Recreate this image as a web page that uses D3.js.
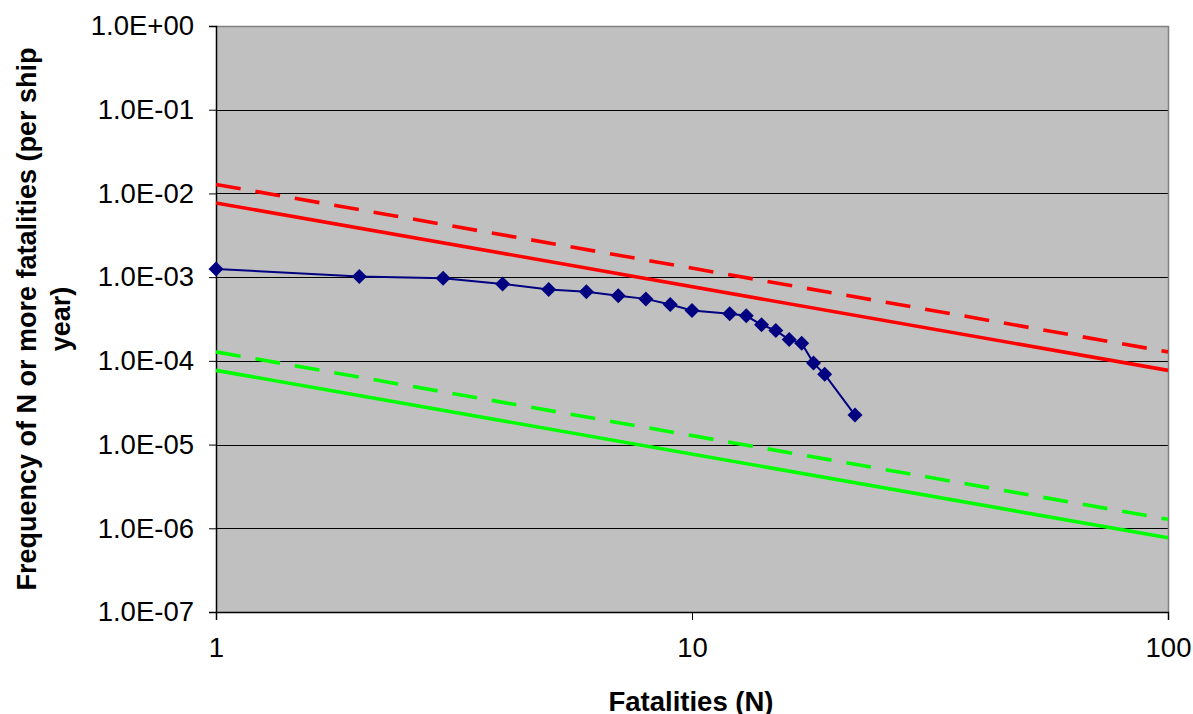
<!DOCTYPE html>
<html><head><meta charset="utf-8">
<script src="https://cdn.jsdelivr.net/npm/d3@7"></script>
<style>body{margin:0;background:#fff;}svg{display:block;}</style>
</head><body>
<script>
const fatalities = [1,2,3,4,5,6,7,8,9,10,12,13,14,15,16,17,18,19,22];
const frequency = [1.25e-3,1.02e-3,9.7e-4,8.3e-4,7.1e-4,6.7e-4,6.0e-4,5.5e-4,4.7e-4,4.0e-4,3.65e-4,3.45e-4,2.7e-4,2.3e-4,1.8e-4,1.62e-4,9.4e-5,6.9e-5,2.25e-5];
const criterionN = [1,100];
const redSolid = [7.7e-3,7.7e-5];
const redDashed = [1.28e-2,1.28e-4];
const greenSolid = [7.7e-5,7.7e-7];
const greenDashed = [1.28e-4,1.28e-6];
const yTicks = [1,1e-1,1e-2,1e-3,1e-4,1e-5,1e-6,1e-7];
const yTickLabels = ["1.0E+00","1.0E-01","1.0E-02","1.0E-03","1.0E-04","1.0E-05","1.0E-06","1.0E-07"];
const xTicks = [1,10,100];

const W=1193,H=714;
const L=216,R=1168,T=26,B=612;
const svg=d3.select("body").append("svg").attr("width",W).attr("height",H);
const x=d3.scaleLog().domain([1,100]).range([L,R]);
const y=d3.scaleLog().domain([1e-7,1]).range([B,T]);
const font="'Liberation Sans', Arial, sans-serif";

svg.append("rect").attr("x",L).attr("y",T).attr("width",R-L).attr("height",B-T).attr("fill","#C0C0C0");
svg.append("g").selectAll("line").data(yTicks.slice(1)).join("line")
  .attr("x1",L).attr("x2",R).attr("y1",d=>Math.round(y(d))+0.5).attr("y2",d=>Math.round(y(d))+0.5)
  .attr("stroke","#000").attr("stroke-width",1);
svg.append("path").attr("d",`M${L},${T+0.5}H${R+0.5}V${B}`).attr("fill","none").attr("stroke","#808080").attr("stroke-width",1.5);

const yAxis=d3.axisLeft(y).tickValues(yTicks).tickFormat((d,i)=>yTickLabels[i]).tickSize(7).tickPadding(15);
const gy=svg.append("g").attr("transform",`translate(${L},0)`).call(yAxis);
const xAxis=d3.axisBottom(x).tickValues(xTicks).tickFormat(d3.format("d")).tickSize(8).tickPadding(17);
const gx=svg.append("g").attr("transform",`translate(0,${B})`).call(xAxis);
[gy,gx].forEach(g=>{
  g.select(".domain").attr("stroke","#000").attr("stroke-width",1.5);
  g.selectAll(".tick line").attr("stroke","#000");
  g.selectAll("text").attr("font-family",font).attr("font-size",27.5).attr("fill","#000");
});

const line=d3.line().x(d=>x(d[0])).y(d=>y(d[1]));
function crit(vals,color,dash){
  svg.append("path").datum(criterionN.map((n,i)=>[n,vals[i]])).attr("d",line)
    .attr("fill","none").attr("stroke",color).attr("stroke-width",3.6)
    .attr("stroke-dasharray",dash||null);
}
crit(redDashed,"#FF0000","25,15");
crit(redSolid,"#FF0000");
crit(greenDashed,"#00FF00","25,15");
crit(greenSolid,"#00FF00");

const pts=fatalities.map((n,i)=>[n,frequency[i]]);
svg.append("path").datum(pts).attr("d",line).attr("fill","none").attr("stroke","#000080").attr("stroke-width",2);
const s=7.5;
svg.append("g").selectAll("path").data(pts).join("path")
  .attr("d",d=>`M${x(d[0])},${y(d[1])-s}L${x(d[0])+s},${y(d[1])}L${x(d[0])},${y(d[1])+s}L${x(d[0])-s},${y(d[1])}Z`)
  .attr("fill","#000080");

svg.append("text").attr("x",691).attr("y",711).attr("text-anchor","middle")
  .attr("font-family",font).attr("font-weight","bold").attr("font-size",27.5).text("Fatalities (N)");
const yt=svg.append("text").attr("transform",`translate(0,${(T+B)/2}) rotate(-90)`)
  .attr("text-anchor","middle").attr("font-family",font).attr("font-weight","bold").attr("font-size",27);
yt.append("tspan").attr("x",0).attr("y",36).text("Frequency of N or more fatalities (per ship");
yt.append("tspan").attr("x",0).attr("y",70).text("year)");
</script>
</body></html>
